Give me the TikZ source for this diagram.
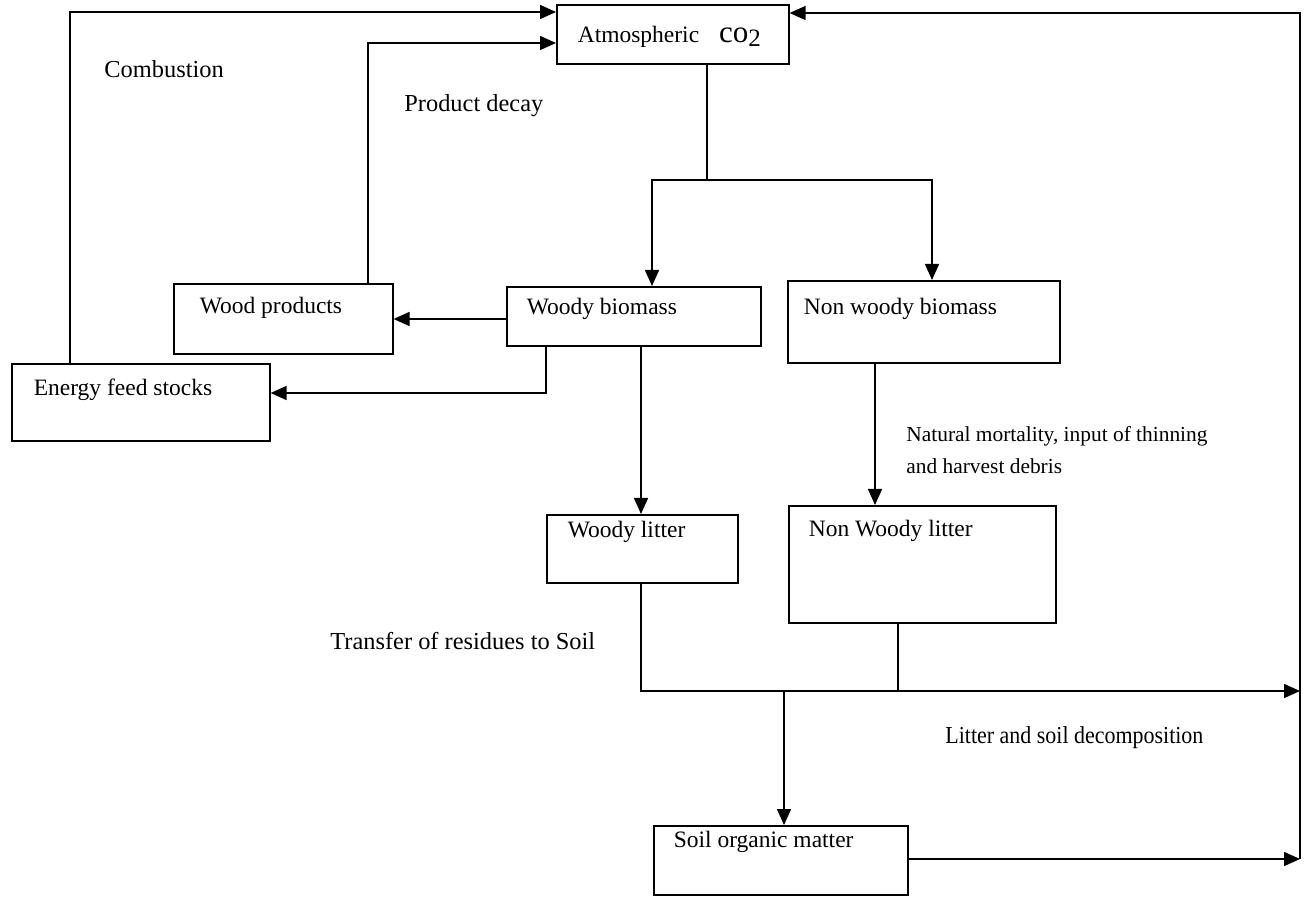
\documentclass[tikz,border=0pt]{standalone}
\usepackage{fontspec}
\setmainfont{Liberation Serif}
\usetikzlibrary{arrows.meta}
\newcommand\fsmain{\fontsize{11.75}{13}\selectfont}
\newcommand\fslabel{\fontsize{12.2}{14}\selectfont}
\newcommand\fssmall{\fontsize{10.7}{12}\selectfont}
\newcommand\boxtext[2]{\makebox[#1][l]{#2}}
\tikzset{
  bx/.style={draw, line width=0.8pt, anchor=north west, inner ysep=0pt, font=\fsmain},
  lbl/.style={anchor=base west, inner sep=0pt, font=\fslabel},
  ln/.style={line width=0.75pt},
  arr/.style={ln, -{Triangle[length=8pt,width=7pt]}},
}
\begin{document}
\begin{tikzpicture}[x=0.5pt, y=-0.5pt]
\useasboundingbox (0,0) rectangle (1307,903);
% boxes
\node[bx, inner xsep=10.5pt, text height=19pt, text depth=10.5pt] (atm) at (556,4)
  {\boxtext{95pt}{Atmospheric\hspace{10pt}{\fontsize{15.5}{15.5}\selectfont co}\raisebox{-2pt}{\fontsize{12.5}{13}\selectfont 2}}};
\node[bx, inner xsep=13pt, text height=15pt, text depth=20pt] (wp) at (173,283) {\boxtext{83.5pt}{Wood products}};
\node[bx, inner xsep=11pt, text height=16pt, text depth=22.5pt] (ef) at (11,363) {\boxtext{107pt}{Energy feed stocks}};
\node[bx, inner xsep=10pt, text height=14pt, text depth=15.5pt] (wb) at (506,286) {\boxtext{107pt}{Woody biomass}};
\node[bx, inner xsep=8pt, text height=17pt, text depth=24pt] (nwb) at (787,280) {\boxtext{120pt}{Non woody biomass}};
\node[bx, inner xsep=10.5pt, text height=11.5pt, text depth=22.5pt] (wl) at (546,514) {\boxtext{74.5pt}{Woody litter}};
\node[bx, inner xsep=10pt, text height=15.5pt, text depth=43pt] (nwl) at (788,505) {\boxtext{113.5pt}{Non Woody litter}};
\node[bx, inner xsep=10pt, text height=11pt, text depth=23.5pt] (som) at (653,825) {\boxtext{107pt}{Soil organic matter}};
% labels
\node[lbl] (lcomb) at (104,78) {Combustion};
\node[lbl] (lprod) at (404,112) {Product decay};
\node[lbl, font=\fssmall] (lnat1) at (906,442) {Natural mortality, input of thinning};
\node[lbl, font=\fssmall] (lnat2) at (906,474) {and harvest debris};
\node[lbl] (ltrans) at (330,649) {Transfer of residues to Soil};
\node[lbl] (llit) at (945,743) {\scalebox{0.9}[1]{Litter and soil decomposition}};
% bend coordinates
\coordinate (cc) at (70,12);
\coordinate (cp) at (368,43);
\coordinate (cj) at (707,180);
\coordinate (cjl) at (652,180);
\coordinate (cjr) at (932,180);
\coordinate (ce) at (546,393);
\coordinate (cw) at (641,691);
\coordinate (cn) at (875,400);
\coordinate (cnl) at (898,691);
\coordinate (cs) at (784,691);
\coordinate (cr) at (1300,691);
\coordinate (ct) at (1300,13);
% connectors
\draw[arr] (cc |- ef.north) -- (cc) -- (cc -| atm.west);
\draw[arr] (cp |- wp.north) -- (cp) -- (cp -| atm.west);
\draw[arr] (cj |- atm.south) -- (cj) -- (cjl) -- (cjl |- wb.north);
\draw[arr] (cj) -- (cjr) -- (cjr |- nwb.north);
\draw[arr] (wb.west |- 0,319) -- (wp.east |- 0,319);
\draw[arr] (ce |- wb.south) -- (ce) -- (ce -| ef.east);
\draw[arr] (cw |- wb.south) -- (cw |- wl.north);
\draw[arr] (cn |- nwb.south) -- (cn |- nwl.north);
\draw[arr] (cw |- wl.south) -- (cw) -- (cr);
\draw[ln] (cnl |- nwl.south) -- (cnl);
\draw[arr] (cs) -- (cs |- som.north);
\draw[arr] (som.east |- 0,859) -- (cr |- 0,859);
\draw[arr] (cr |- 0,859) -- (ct) -- (ct -| atm.east);
\end{tikzpicture}
\end{document}
